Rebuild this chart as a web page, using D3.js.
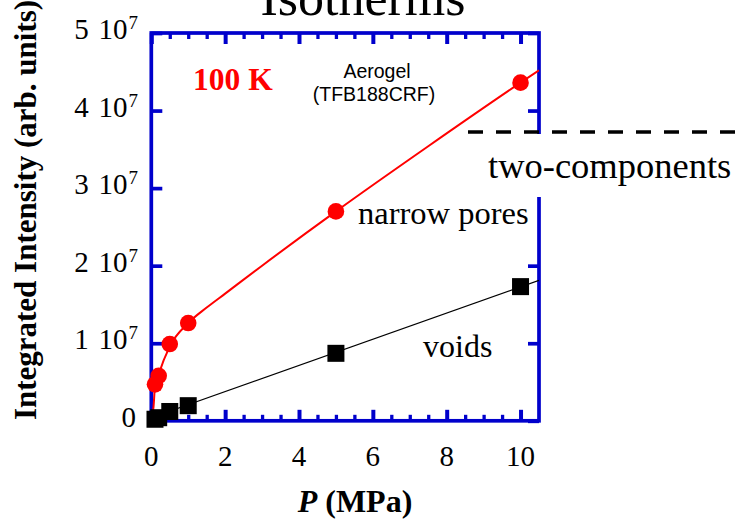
<!DOCTYPE html>
<html>
<head>
<meta charset="utf-8">
<script src="https://cdn.jsdelivr.net/npm/d3@7/dist/d3.min.js"></script>
<style>
  html, body { margin: 0; padding: 0; background: #fff; }
  svg { display: block; }
</style>
</head>
<body>
<svg id="chart" width="736" height="523"></svg>
<script>
// Pressure (MPa) at which the isotherm points were measured
const pressure = [0.1, 0.2, 0.5, 1, 5, 10];
// Integrated intensity of the narrow-pore component (red circles)
const narrowPores = [4.7e6, 5.8e6, 9.9e6, 12.6e6, 27.0e6, 43.6e6];
// Integrated intensity of the void component (black squares)
const voids = [0.2e6, 0.4e6, 1.2e6, 1.95e6, 8.7e6, 17.3e6];

// Fitted curve through the narrow-pore points
const narrowFitP = [0, 0.06, 0.1, 0.2, 0.5, 1, 1.5, 2, 3, 5, 7.5, 10, 10.5];
const narrowFit = [0, 1.8e6, 4.4e6, 6.0e6, 9.6e6, 12.6e6, 14.6e6, 16.4e6, 20.0e6, 27.0e6, 35.4e6, 43.6e6, 45.2e6];
// Linear fit through the void points
const voidsFitP = [0, 10.5];
const voidsFit = [0.4e6, 18.1e6];

// Axis ticks and labels
const xMajor = [0, 2, 4, 6, 8, 10];
const xMinor = [0.5, 1, 1.5, 2.5, 3, 3.5, 4.5, 5, 5.5, 6.5, 7, 7.5, 8.5, 9, 9.5];
const xLabels = ["0", "2", "4", "6", "8", "10"];
const yMajor = [0, 1e7, 2e7, 3e7, 4e7, 5e7];
const yMantissa = ["0", "1", "2", "3", "4", "5"];

const BLUE = "#0000cc";
const RED = "#ff0000";
const SERIF = "'Liberation Serif', 'Times New Roman', serif";
const SANS = "'Liberation Sans', Arial, sans-serif";

const svg = d3.select("#chart");
const x = d3.scaleLinear().domain([0, 10.5]).range([151.3, 539]);
const y = d3.scaleLinear().domain([0, 5e7]).range([420.8, 33]);

// Title
svg.append("text")
  .attr("x", 363).attr("y", 15)
  .attr("text-anchor", "middle")
  .attr("font-family", SERIF).attr("font-size", 52)
  .text("Isotherms");

// Clip region for the fitted lines
svg.append("clipPath").attr("id", "plotClip")
  .append("rect")
  .attr("x", x(0)).attr("y", y(5e7))
  .attr("width", x(10.5) - x(0)).attr("height", y(0) - y(5e7));

// Tick marks (drawn inward) with d3 axes
function styleTicks(g, width) {
  g.select(".domain").remove();
  g.selectAll(".tick line").attr("stroke", BLUE).attr("stroke-width", width);
  g.selectAll(".tick text").remove();
}
svg.append("g").attr("transform", `translate(0,${y(0)})`)
  .call(d3.axisBottom(x).tickValues(xMajor).tickSize(-11).tickFormat(""))
  .call(g => styleTicks(g, 4));
svg.append("g").attr("transform", `translate(0,${y(0)})`)
  .call(d3.axisBottom(x).tickValues(xMinor).tickSize(-6).tickFormat(""))
  .call(g => styleTicks(g, 3.3));
svg.append("g").attr("transform", `translate(0,${y(5e7)})`)
  .call(d3.axisTop(x).tickValues(xMajor).tickSize(-11).tickFormat(""))
  .call(g => styleTicks(g, 4));
svg.append("g").attr("transform", `translate(0,${y(5e7)})`)
  .call(d3.axisTop(x).tickValues(xMinor).tickSize(-6).tickFormat(""))
  .call(g => styleTicks(g, 3.3));
svg.append("g").attr("transform", `translate(${x(0)},0)`)
  .call(d3.axisLeft(y).tickValues(yMajor).tickSize(-11).tickFormat(""))
  .call(g => styleTicks(g, 3.7));
svg.append("g").attr("transform", `translate(${x(10.5)},0)`)
  .call(d3.axisRight(y).tickValues(yMajor).tickSize(-11).tickFormat(""))
  .call(g => styleTicks(g, 3.7));

// Plot frame
svg.append("rect")
  .attr("x", x(0)).attr("y", y(5e7))
  .attr("width", x(10.5) - x(0)).attr("height", y(0) - y(5e7))
  .attr("fill", "none").attr("stroke", BLUE).attr("stroke-width", 3.7);

// X tick labels
svg.append("g").selectAll("text").data(xMajor).join("text")
  .attr("x", d => x(d)).attr("y", 466)
  .attr("text-anchor", "middle")
  .attr("font-family", SERIF).attr("font-size", 29)
  .text((d, i) => xLabels[i]);

// Y tick labels in "N 10^7" form
const yl = svg.append("g").selectAll("text").data(yMajor).join("text")
  .attr("x", 138).attr("y", d => y(d) + 6)
  .attr("text-anchor", "end")
  .attr("font-family", SERIF).attr("font-size", 29);
yl.each(function (d, i) {
  const t = d3.select(this);
  if (d === 0) { t.attr("x", 136).text(yMantissa[i]); return; }
  t.append("tspan").text(yMantissa[i] + "\u00a0\u200a10");
  t.append("tspan").attr("dy", -10).attr("dx", 1).attr("font-size", 19).text("7");
});

// Axis titles
const xt = svg.append("text")
  .attr("x", 355).attr("y", 512)
  .attr("text-anchor", "middle")
  .attr("font-family", SERIF).attr("font-size", 32).attr("font-weight", "bold");
xt.append("tspan").attr("font-style", "italic").text("P");
xt.append("tspan").text(" (MPa)");

svg.append("text")
  .attr("transform", "translate(36,210) rotate(-90)")
  .attr("text-anchor", "middle")
  .attr("font-family", SERIF).attr("font-size", 31).attr("font-weight", "bold")
  .text("Integrated Intensity (arb. units)");

// Fitted lines
const narrowLine = d3.line()
  .x((d, i) => x(narrowFitP[i])).y(d => y(d))
  .curve(d3.curveMonotoneX);
svg.append("path").datum(narrowFit)
  .attr("clip-path", "url(#plotClip)")
  .attr("d", narrowLine)
  .attr("fill", "none").attr("stroke", RED).attr("stroke-width", 2);

const voidsLine = d3.line()
  .x((d, i) => x(voidsFitP[i])).y(d => y(d));
svg.append("path").datum(voidsFit)
  .attr("clip-path", "url(#plotClip)")
  .attr("d", voidsLine)
  .attr("fill", "none").attr("stroke", "#000").attr("stroke-width", 1.2);

// Narrow-pore points
svg.append("g").selectAll("circle").data(narrowPores).join("circle")
  .attr("cx", (d, i) => x(pressure[i])).attr("cy", d => y(d))
  .attr("r", 8.3).attr("fill", RED);

// Void points
const sq = 17;
svg.append("g").selectAll("rect").data(voids).join("rect")
  .attr("x", (d, i) => x(pressure[i]) - sq / 2).attr("y", d => y(d) - sq / 2)
  .attr("width", sq).attr("height", sq).attr("fill", "#000");

// In-plot annotations
svg.append("text")
  .attr("x", 193).attr("y", 90)
  .attr("font-family", SERIF).attr("font-size", 31.5).attr("font-weight", "bold")
  .attr("fill", RED).text("100 K");
svg.append("text")
  .attr("x", 377).attr("y", 78)
  .attr("text-anchor", "middle")
  .attr("font-family", SANS).attr("font-size", 19.5)
  .text("Aerogel");
svg.append("text")
  .attr("x", 374).attr("y", 101)
  .attr("text-anchor", "middle")
  .attr("font-family", SANS).attr("font-size", 19.5)
  .text("(TFB188CRF)");
svg.append("text")
  .attr("x", 358).attr("y", 224)
  .attr("font-family", SERIF).attr("font-size", 32.5)
  .text("narrow pores");
svg.append("text")
  .attr("x", 423).attr("y", 357)
  .attr("font-family", SERIF).attr("font-size", 32)
  .text("voids");

// "two-components" callout with its dashed leader
svg.append("rect")
  .attr("x", 472).attr("y", 134).attr("width", 264).attr("height", 63)
  .attr("fill", "#fff");
svg.append("line")
  .attr("x1", 468).attr("x2", 736).attr("y1", 132).attr("y2", 132)
  .attr("stroke", "#000").attr("stroke-width", 3.5)
  .attr("stroke-dasharray", "15,13");
svg.append("text")
  .attr("x", 488).attr("y", 178)
  .attr("font-family", SERIF).attr("font-size", 36.5)
  .text("two-components");
</script>
</body>
</html>
